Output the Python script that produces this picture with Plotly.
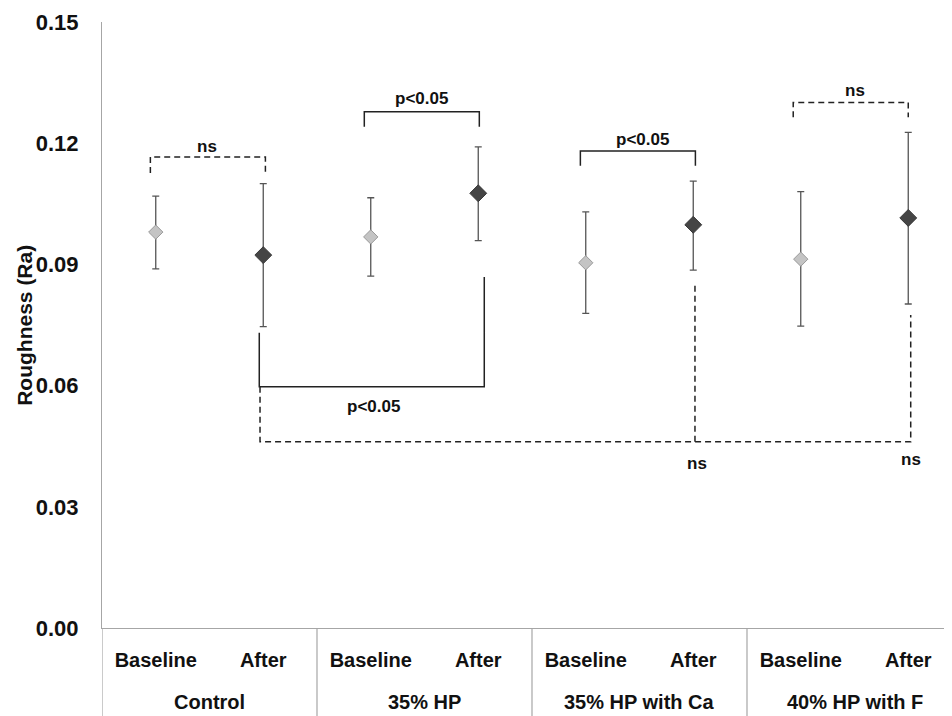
import plotly.graph_objects as go

groups = ["Control", "35% HP", "35% HP with Ca", "40% HP with F"]
sublabels = ["Baseline", "After"]

baseline_mean = [0.0980, 0.0968, 0.0904, 0.0913]
baseline_upper = [0.1069, 0.1065, 0.1030, 0.1080]
baseline_lower = [0.0889, 0.0871, 0.0779, 0.0747]
after_mean = [0.0923, 0.1076, 0.0998, 0.1015]
after_upper = [0.1100, 0.1191, 0.1106, 0.1227]
after_lower = [0.0746, 0.0959, 0.0886, 0.0802]

y_ticks = [0.00, 0.03, 0.06, 0.09, 0.12, 0.15]

FONT = "Liberation Sans, Arial, sans-serif"

xb = [2 * i for i in range(len(groups))]
xa = [2 * i + 1 for i in range(len(groups))]

fig = go.Figure()
fig.add_trace(go.Scatter(
    x=xb, y=baseline_mean, mode="markers", name="Baseline",
    marker=dict(symbol="diamond", size=11, color="#c4c4c4",
                line=dict(color="#9a9a9a", width=1)),
    error_y=dict(type="data", symmetric=False,
                 array=[u - m for u, m in zip(baseline_upper, baseline_mean)],
                 arrayminus=[m - l for m, l in zip(baseline_mean, baseline_lower)],
                 color="#555555", thickness=1.3, width=3.5),
))
fig.add_trace(go.Scatter(
    x=xa, y=after_mean, mode="markers", name="After",
    marker=dict(symbol="diamond", size=13, color="#454545",
                line=dict(color="#3a3a3a", width=1)),
    error_y=dict(type="data", symmetric=False,
                 array=[u - m for u, m in zip(after_upper, after_mean)],
                 arrayminus=[m - l for m, l in zip(after_mean, after_lower)],
                 color="#555555", thickness=1.3, width=3.5),
))

shapes = []
LC = "#222222"

def bracket(x0, x1, ytop, yend, dashed):
    shapes.append(dict(
        type="path", xref="x", yref="y",
        path=f"M {x0},{yend} L {x0},{ytop} L {x1},{ytop} L {x1},{yend}",
        line=dict(color=LC, width=1.5, dash="6px,4px" if dashed else "solid"),
    ))

# upper brackets
bracket(-0.05, 1.02, 0.1166, 0.1126, True)
bracket(1.94, 3.01, 0.1278, 0.1241, False)
bracket(3.95, 5.02, 0.1181, 0.1144, False)
bracket(5.93, 7.00, 0.1301, 0.1264, True)

# lower solid bracket (Control After vs 35% HP After)
shapes.append(dict(type="path", xref="x", yref="y",
                   path="M 0.963,0.0731 L 0.963,0.0597 L 3.056,0.0597 L 3.056,0.0869",
                   line=dict(color=LC, width=1.5)))
# lower dashed bracket
dash = "6px,4px"
shapes.append(dict(type="path", xref="x", yref="y",
                   path="M 0.97,0.0597 L 0.97,0.0461 L 7.023,0.0461 L 7.023,0.0775",
                   line=dict(color=LC, width=1.5, dash=dash)))
shapes.append(dict(type="line", xref="x", yref="y",
                   x0=5.016, x1=5.016, y0=0.0461, y1=0.0857,
                   line=dict(color=LC, width=1.5, dash=dash)))

# group dividers below axis
for xd in [-0.5, 1.5, 3.5, 5.5]:
    shapes.append(dict(type="line", xref="x", yref="paper",
                       x0=xd, x1=xd, y0=-0.16, y1=0,
                       line=dict(color="#a6a6a6", width=1.2)))

ann = []
def txt(x, y, s, size=17):
    ann.append(dict(x=x, y=y, xref="x", yref="y", text=f"<b>{s}</b>",
                    showarrow=False, xanchor="center", yanchor="middle",
                    font=dict(family=FONT, size=size, color="#111111")))

txt(0.477, 0.1193, "ns")
txt(2.474, 0.1311, "p&lt;0.05")
txt(4.529, 0.1210, "p&lt;0.05")
txt(6.505, 0.1330, "ns")
txt(2.030, 0.0548, "p&lt;0.05")
txt(5.032, 0.0406, "ns")
txt(7.023, 0.0418, "ns")

for i, g in enumerate(groups):
    ann.append(dict(x=2 * i + 0.5, y=-0.1221, xref="x", yref="paper",
                    text=f"<b>{g}</b>", showarrow=False,
                    xanchor="center", yanchor="middle",
                    font=dict(family=FONT, size=20, color="#111111")))

ann.append(dict(x=-0.092, y=0.5, xref="paper", yref="paper",
                text="<b>Roughness (Ra)</b>", textangle=-90, showarrow=False,
                xanchor="center", yanchor="middle",
                font=dict(family=FONT, size=21, color="#111111")))

fig.update_layout(
    width=944, height=708,
    margin=dict(l=94, r=0, t=14, b=88),
    paper_bgcolor="white", plot_bgcolor="white",
    showlegend=False,
    shapes=shapes, annotations=ann,
    xaxis=dict(range=[-0.5, 7.407], tickmode="array",
               tickvals=list(range(8)),
               ticktext=[f"<b>{s}</b>" for s in sublabels * len(groups)],
               tickfont=dict(family=FONT, size=20, color="#111111"),
               showgrid=False, zeroline=False, showline=True,
               linecolor="#a6a6a6", linewidth=1.2, ticks="",
               ticklabelstandoff=14),
    yaxis=dict(range=[0, 0.15], tickmode="array", tickvals=y_ticks,
               ticktext=[f"<b>{v:.2f}</b>" for v in y_ticks],
               tickfont=dict(family=FONT, size=22, color="#111111"),
               showgrid=False, zeroline=False, showline=True,
               linecolor="#a6a6a6", linewidth=1.2, ticks="",
               ticklabelstandoff=18),
)

fig.write_html("out.html")
